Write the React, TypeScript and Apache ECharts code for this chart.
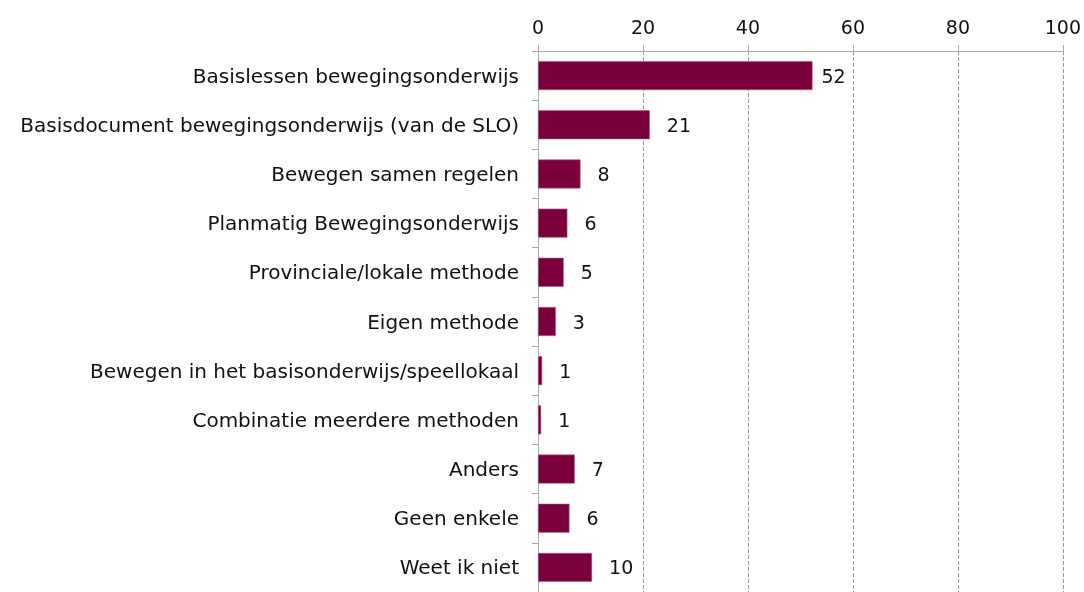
import React, { useEffect, useRef } from "react";
import * as echarts from "echarts";

const categories = [
  "Basislessen bewegingsonderwijs",
  "Basisdocument bewegingsonderwijs (van de SLO)",
  "Bewegen samen regelen",
  "Planmatig Bewegingsonderwijs",
  "Provinciale/lokale methode",
  "Eigen methode",
  "Bewegen in het basisonderwijs/speellokaal",
  "Combinatie meerdere methoden",
  "Anders",
  "Geen enkele",
  "Weet ik niet",
];
const values = [52.3, 21.3, 8.1, 5.6, 4.9, 3.4, 0.8, 0.6, 7.0, 6.0, 10.3];
const xTicks = [0, 20, 40, 60, 80, 100];

const FONT = "DejaVu Sans";

export default function App() {
  const ref = useRef<HTMLDivElement>(null);
  useEffect(() => {
    if (!ref.current) return;
    const chart = echarts.init(ref.current, undefined, { renderer: "svg" });
    chart.setOption({
      animation: false,
      grid: { left: 538, right: 21, top: 51, height: 545, containLabel: false },
      xAxis: {
        type: "value",
        position: "top",
        min: xTicks[0],
        max: xTicks[xTicks.length - 1],
        interval: 20,
        axisLine: { show: true, lineStyle: { color: "#aaaaaa", width: 1 } },
        axisTick: { show: true, length: 6, lineStyle: { color: "#aaaaaa" } },
        axisLabel: {
          color: "#111111",
          fontFamily: FONT,
          fontSize: 19,
          margin: 15,
        },
        splitLine: {
          show: true,
          lineStyle: { color: "#999999", type: [4, 2], width: 1 },
        },
      },
      yAxis: {
        type: "category",
        inverse: true,
        data: categories,
        axisLine: { show: true, lineStyle: { color: "#aaaaaa", width: 1 } },
        axisTick: { show: true, length: 6, lineStyle: { color: "#aaaaaa" } },
        axisLabel: {
          color: "#111111",
          fontFamily: FONT,
          fontSize: 20,
          margin: 19,
        },
        splitLine: { show: false },
      },
      series: [
        {
          type: "bar",
          data: values.map((v, i) =>
            i === 0 ? { value: v, label: { distance: 9 } } : v
          ),
          barWidth: 29,
          itemStyle: {
            color: "#7A003C",
            borderColor: "#B35E86",
            borderWidth: 0.6,
          },
          label: {
            show: true,
            position: "right",
            distance: 17,
            color: "#111111",
            fontFamily: FONT,
            fontSize: 19,
            formatter: (p: any) => String(Math.round(p.value)),
          },
        },
      ],
    });
    return () => chart.dispose();
  }, []);
  return (
    <div
      ref={ref}
      style={{ position: "fixed", left: 0, top: 0, width: 1084, height: 592 }}
    />
  );
}
